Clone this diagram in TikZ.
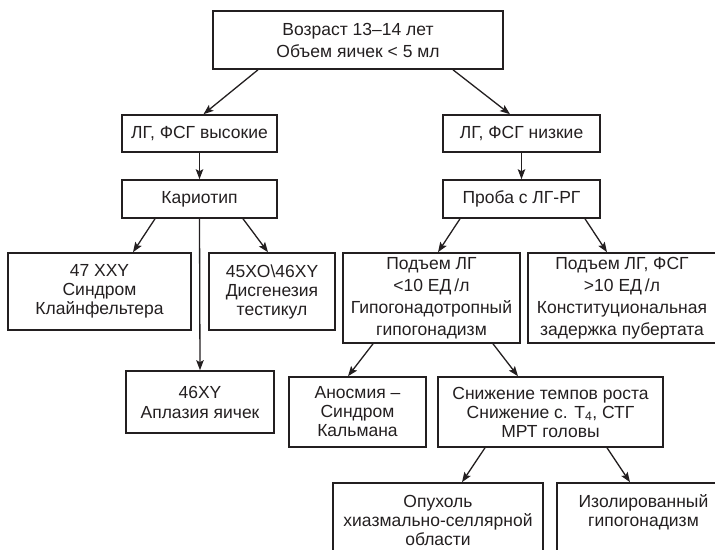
\documentclass[tikz,border=0pt]{standalone}
\usepackage{fontspec}
\setmainfont{Liberation Sans}
\usepackage{xcolor}
\definecolor{cInk}{HTML}{231F20}
\usepackage{tikz}
\usetikzlibrary{positioning,arrows.meta}
\tikzset{
  node-box/.style={draw=cInk,line width=1.6pt,rectangle,inner sep=0pt,
    align=center,text=cInk,font=\fontsize{17.5}{20}\selectfont},
  node-wide/.style={font=\fontsize{17.5}{22}\selectfont},
  node-tight/.style={font=\fontsize{17.5}{19}\selectfont},
  arrow/.style={-{Stealth[length=10pt,width=7.5pt,inset=2pt]},line width=1.3pt,draw=cInk},
}

\begin{document}
\begin{tikzpicture}[x=1pt,y=-1pt]
  \path[use as bounding box] (0,0) rectangle (715,549);
  \clip (0,0) rectangle (715,549);
  % first level
  \node[node-box,node-wide,minimum width=290pt,minimum height=58pt] (age) at (358,40)
    {Возраст 13–14 лет\\Объем яичек < 5 мл};
  \node[node-box,minimum width=155pt,minimum height=37pt] (high) at (199.5,133.5)
    {ЛГ, ФСГ высокие};
  \node[node-box,minimum width=157pt,minimum height=37pt] (low) at (521.5,133.5)
    {ЛГ, ФСГ низкие};
  \node[node-box,minimum width=155pt,minimum height=38pt] (karyo) at (199.5,199)
    {Кариотип};
  \node[node-box,minimum width=157pt,minimum height=38pt] (probe) at (521.5,199)
    {Проба с ЛГ-РГ};
  % karyotype branch
  \node[node-box,node-tight,minimum width=183pt,minimum height=77pt] (kline) at (99.5,291.5)
    {47 XXY\\Синдром\\Клайнфельтера};
  \node[node-box,node-tight,minimum width=126pt,minimum height=77pt] (dysg) at (272,291.5)
    {45XO\textbackslash 46XY\\Дисгенезия\\тестикул};
  \node[node-box,minimum width=148pt,minimum height=62pt] (aplas) at (200,402)
    {46XY\\Аплазия яичек};
  % LH-RH test branch
  \node[node-box,node-wide,minimum width=177pt,minimum height=90pt] (hypo) at (431.5,298)
    {Подъем ЛГ\\<10 ЕД\,/л\\Гипогонадотропный\\гипогонадизм};
  \node[node-box,node-wide,minimum width=188pt,minimum height=90pt] (const) at (622,298)
    {Подъем ЛГ, ФСГ\\>10 ЕД\,/л\\Конституциональная\\задержка пубертата};
  \node[node-box,node-tight,minimum width=137pt,minimum height=70pt] (anosm) at (357.5,412)
    {Аносмия –\\Синдром\\Кальмана};
  \node[node-box,node-tight,minimum width=225pt,minimum height=70pt] (growth) at (550.5,412)
    {Снижение темпов роста\\Снижение с. T\textsubscript{4}, СТГ\\МРТ головы};
  \node[node-box,node-tight,minimum width=210pt,minimum height=74pt] (tumor) at (438,520)
    {Опухоль\\хиазмально-селлярной\\области};
  \node[node-box,node-tight,minimum width=173pt,minimum height=74pt] (isol) at (643.5,520)
    {Изолированный\\гипогонадизм\\\mbox{}};

  \draw[arrow] ([xshift=-100pt]age.south) -- ([xshift=4pt]high.north);
  \draw[arrow] ([xshift=95pt]age.south) -- ([xshift=-11.5pt]low.north);
  \draw[arrow] (high) -- (karyo);
  \draw[arrow] (low) -- (probe);
  \draw[arrow] ([xshift=-44.5pt]karyo.south) -- ([xshift=33.5pt]kline.north);
  \draw[arrow] (karyo.south) -- (aplas.north);
  \draw[arrow] ([xshift=43.5pt]karyo.south) -- ([xshift=-4pt]dysg.north);
  \draw[arrow] ([xshift=-61.5pt]probe.south) -- ([xshift=6.5pt]hypo.north);
  \draw[arrow] ([xshift=63.5pt]probe.south) -- ([xshift=-15pt]const.north);
  \draw[arrow] ([xshift=-58.5pt]hypo.south) -- ([xshift=-9.5pt]anosm.north);
  \draw[arrow] ([xshift=61.5pt]hypo.south) -- ([xshift=-32.5pt]growth.north);
  \draw[arrow] ([xshift=-65.5pt]growth.south) -- ([xshift=24pt]tumor.north);
  \draw[arrow] ([xshift=56.5pt]growth.south) -- ([xshift=-13.5pt]isol.north);
\end{tikzpicture}
\end{document}
